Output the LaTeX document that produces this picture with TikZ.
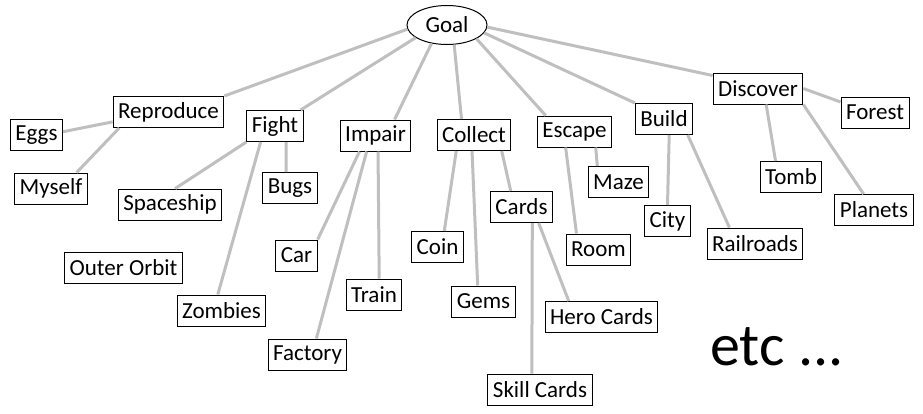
\documentclass[tikz,border=0pt]{standalone}
\usepackage{fontspec}
\setmainfont{Carlito}
\usetikzlibrary{shapes.geometric}

\begin{document}
\begin{tikzpicture}[
        x=1pt, y=-1pt,
        topic/.style={draw,line width=1pt,inner xsep=5pt,inner ysep=2pt,minimum height=31pt,font=\fontsize{23}{27}\selectfont},
        root/.style={draw,ellipse,line width=1pt,inner sep=0pt,minimum width=80pt,minimum height=39pt,font=\fontsize{23}{27}\selectfont},
        link/.style={line width=3pt,lightgray}
    ]
        \useasboundingbox (0,0) rectangle (923,413);

        % Define the nodes
        \node[root] (goal) at (447,25) {Goal};

        \node[topic] (reproduce) at (168.5,112) {Reproduce};
        \node[topic] (eggs) at (36.5,135) {Eggs};
        \node[topic] (myself) at (51,188.5) {Myself};

        \node[topic] (fight) at (275,126) {Fight};
        \node[topic] (spaceship) at (170,204.5) {Spaceship};
        \node[topic] (bugs) at (290,188) {Bugs};
        \node[topic] (zombies) at (221.5,310.5) {Zombies};
        \node[topic] (outerorbit) at (123.5,267.5) {Outer Orbit};

        \node[topic] (impair) at (375.5,135.5) {Impair};
        \node[topic] (car) at (296.5,255.5) {Car};
        \node[topic] (train) at (374,294.5) {Train};
        \node[topic] (factory) at (307.5,354.5) {Factory};

        \node[topic] (collect) at (474,135) {Collect};
        \node[topic] (coin) at (437.5,247) {Coin};
        \node[topic] (gems) at (483.5,301.5) {Gems};
        \node[topic] (cards) at (521.5,207) {Cards};
        \node[topic] (herocards) at (601.5,317) {Hero Cards};
        \node[topic] (skillcards) at (540,389.5) {Skill Cards};

        \node[topic] (escape) at (574.5,131.5) {Escape};
        \node[topic] (maze) at (618.5,182) {Maze};
        \node[topic] (room) at (598.5,249.5) {Room};

        \node[topic] (build) at (664,119) {Build};
        \node[topic] (city) at (667.5,221) {City};
        \node[topic] (railroads) at (755,243.5) {Railroads};

        \node[topic] (discover) at (758,88.5) {Discover};
        \node[topic] (forest) at (875,112.5) {Forest};
        \node[topic] (tomb) at (791,177) {Tomb};
        \node[topic] (planets) at (874,210) {Planets};

        \node[font=\fontsize{60}{66}\selectfont] (etc) at (777,347) {etc ...};

        % Goal to the first level
        \draw[link] (goal.186) -- (reproduce.north east);
        \draw[link] (goal.202) -- (fight.32);
        \draw[link] (goal.230) -- (impair.40);
        \draw[link] (goal.290) -- (collect.128);
        \draw[link] (goal.335) -- (escape.151);
        \draw[link] (goal.348) -- (build.north west);
        \draw[link] (goal.357) -- (discover.164);

        % Second level
        \draw[link] (reproduce.190) -- (eggs.7);
        \draw[link] (reproduce.198) -- (myself.32);
        \draw[link] (fight.south west) -- (spaceship.72);
        \draw[link] (fight.228) -- (zombies.103);
        \draw[link] (fight.305) -- (bugs.104);
        \draw[link] (impair.225) -- (car.north east);
        \draw[link] (impair.241) -- (factory.61);
        \draw[link] (impair.279) -- (train.72);
        \draw[link] (collect.222) -- (coin.67);
        \draw[link] (collect.263) -- (gems.110);
        \draw[link] (collect.330) -- (cards.124);
        \draw[link] (cards.304) -- (skillcards.117);
        \draw[link] (cards.317) -- (herocards.154);
        \draw[link] (escape.241) -- (room.144);
        \draw[link] (escape.323) -- (maze.143);
        \draw[link] (build.288) -- (city.north);
        \draw[link] (build.326) -- (railroads.148);
        \draw[link] (discover.east) -- (forest.163);
        \draw[link] (discover.297) -- (tomb.134);
        \draw[link] (discover.south east) -- (planets.123);
    \end{tikzpicture}
\end{document}
